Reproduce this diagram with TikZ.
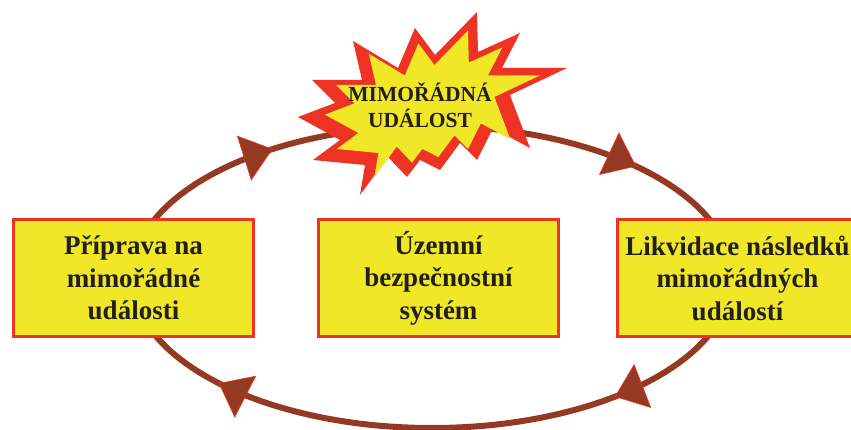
\documentclass[tikz,border=0pt]{standalone}
\usepackage{fontspec}
\setmainfont{Liberation Serif}
\usepackage{tikz}
\usetikzlibrary{arrows.meta,calc,decorations.markings,positioning,fit}
\definecolor{cycbrown}{RGB}{148,58,34}
\definecolor{cycred}{RGB}{238,50,36}
\definecolor{cycyellow}{RGB}{240,232,38}
\definecolor{cyctext}{RGB}{35,31,32}
\newcommand\burstpath{(-134,-12) -- (-97,2) -- (-120,25) -- (-70,25) -- (-79,64) -- (-34,37) -- (-17,77) -- (3,50) -- (45,93) -- (46,53) -- (88,72) -- (70,37) -- (135,37) -- (78,10) -- (98,-43) -- (61,-23) -- (45,-55) -- (28,-38) -- (8,-65) -- (-12,-55) -- (-25,-72) -- (-44,-52) -- (-72,-90) -- (-67,-60) -- (-119,-55) -- (-92,-35) -- cycle}
\tikzset{
phase/.style={draw=cycred,line width=3pt,fill=cycyellow,minimum width=240pt,minimum height=116pt,inner sep=0pt,align=center,text=cyctext,font=\fontsize{27}{32.5}\selectfont\bfseries},
cyctip/.tip={Triangle[length=30pt,width=47pt,fill=cycbrown,color=cycred,line width=0.6pt]},
loopline/.style={draw=cycbrown,line width=6pt,postaction={decorate},decoration={markings,
mark=at position 0.106 with {\arrowreversed{cyctip}},
mark=at position 0.361 with {\arrowreversed{cyctip}},
mark=at position 0.599 with {\arrowreversed{cyctip}},
mark=at position 0.878 with {\arrowreversed{cyctip}}}}
}

\begin{document}
\begin{tikzpicture}[x=1pt,y=1pt]
\useasboundingbox (0,0) rectangle (851,-430);
\coordinate (mid) at (432,-277);
\draw[loopline] (mid) ellipse [x radius=300pt,y radius=151pt];
\begin{scope}[shift={(432,-105)}]
\fill[cycred] \burstpath;
\fill[cycyellow,scale=0.8] \burstpath;
\end{scope}
\node[font=\fontsize{21.5}{26}\selectfont\bfseries,text=cyctext,align=center] (event) at (420,-105.5) {MIMOŘÁDNÁ\\UDÁLOST};
\node[phase] (prep) at (133.5,-278) {Příprava na\\mimořádné\\události};
\node[phase,right=62pt of prep] (uzemni) {Územní\\bezpečnostní\\systém};
\node[phase,right=56pt of uzemni] (likv) {Likvidace následků\\mimořádných\\událostí};
\end{tikzpicture}
\end{document}
